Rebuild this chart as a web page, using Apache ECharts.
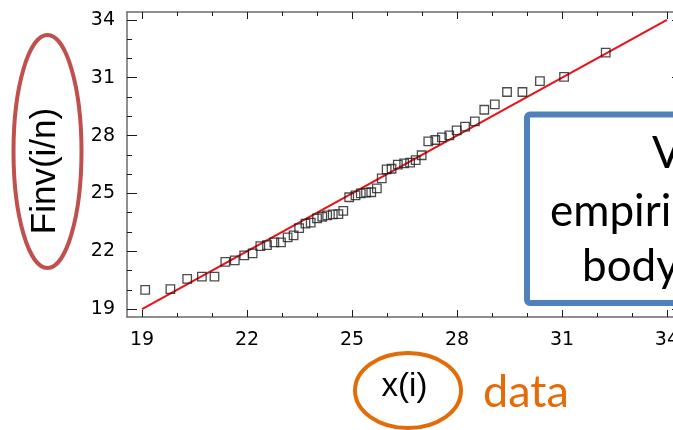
<!DOCTYPE html>
<html><head><meta charset="utf-8">
<script src="https://cdn.jsdelivr.net/npm/echarts@6/dist/echarts.min.js"></script>
<style>html,body{margin:0;padding:0;background:#fff;overflow:hidden}#c{width:673px;height:430px}</style>
</head><body><div id="c"></div>
<script>
// sorted data values x(i)
const dataX = [19.09,19.81,20.29,20.71,21.07,21.38,21.65,21.92,22.16,22.38,22.57,22.78,22.97,23.16,23.33,23.49,23.67,23.82,24.00,24.15,24.29,24.45,24.61,24.75,24.92,25.10,25.25,25.40,25.55,25.71,25.85,25.99,26.13,26.31,26.49,26.66,26.82,26.99,27.18,27.38,27.57,27.78,27.99,28.23,28.51,28.78,29.08,29.43,29.87,30.37,31.06,32.25];
// theoretical quantiles Finv(i/n)
const quantY = [20.00,20.04,20.57,20.68,20.68,21.45,21.53,21.79,21.89,22.27,22.32,22.46,22.46,22.72,22.82,23.20,23.43,23.48,23.71,23.79,23.86,23.91,23.93,24.09,24.80,24.90,25.00,25.04,25.06,25.26,25.78,26.25,26.28,26.49,26.56,26.60,26.73,26.98,27.70,27.77,27.91,28.01,28.27,28.46,28.74,29.34,29.62,30.26,30.26,30.82,31.04,32.30];
// reference line y = x
const refLineX = [19, 34];
const refLineY = [19, 34];
// tick values
const majorTicks = [19, 22, 25, 28, 31, 34];
const minorTicks = [19,20,21,22,23,24,25,26,27,28,29,30,31,32,33,34];
const xRange = [18.57, 34.43];
const yRange = [18.59, 34.41];
const xTitle = 'x(i)';
const yTitle = 'Finv(i/n)';
const noteWord = 'data';
const boxLines = ['V', 'empiri', 'body'];

const chart = echarts.init(document.getElementById('c'), null, {renderer: 'canvas'});
const lineCol = '#6b6b6b';
const tickCol = '#1a1a1a';
const lblFont = 'Liberation Sans';
const tickFont = 'DejaVu Sans';

function mkAxis(kind, pos, ticks, len, withLine, withLabel, extra) {
  const range = kind === 'x' ? xRange : yRange;
  const a = {
    type: 'value', gridIndex: 0, position: pos, min: range[0], max: range[1],
    axisLine: {show: withLine, onZero: false, lineStyle: {color: lineCol, width: 1.5}},
    axisTick: {show: true, inside: true, length: len, customValues: ticks, lineStyle: {color: tickCol, width: 1}},
    axisLabel: withLabel ? {show: true, customValues: majorTicks, fontSize: 19, color: '#000', fontFamily: tickFont, margin: kind === 'x' ? 14 : 12} : {show: false},
    splitLine: {show: false}, minorTick: {show: false}
  };
  return Object.assign(a, extra || {});
}

const option = {
  animation: false,
  backgroundColor: '#fff',
  grid: {left: 127, top: 12, width: 555, height: 305, containLabel: false, outerBoundsMode: 'none'},
  xAxis: [
    mkAxis('x', 'bottom', majorTicks, 7, true, true, {name: xTitle, nameLocation: 'middle', nameGap: 53,
      nameTextStyle: {fontSize: 33, color: '#000', fontFamily: lblFont}}),
    mkAxis('x', 'bottom', minorTicks, 4, false, false),
    mkAxis('x', 'top', majorTicks, 7, true, false),
    mkAxis('x', 'top', minorTicks, 4, false, false)
  ],
  yAxis: [
    mkAxis('y', 'left', majorTicks, 10, true, true),
    mkAxis('y', 'left', minorTicks, 5, false, false),
    mkAxis('y', 'right', majorTicks, 10, true, false),
    mkAxis('y', 'right', minorTicks, 5, false, false)
  ],
  series: [
    {
      type: 'line', xAxisIndex: 0, yAxisIndex: 0, z: 2,
      data: refLineX.map((v, i) => [v, refLineY[i]]),
      symbol: 'none', lineStyle: {color: '#e8141a', width: 2.2}
    },
    {
      type: 'scatter', xAxisIndex: 0, yAxisIndex: 0, z: 3,
      data: dataX.map((v, i) => [v, quantY[i]]),
      symbol: 'rect', symbolSize: 8.5,
      itemStyle: {color: 'rgba(255,255,255,0)', borderColor: '#1e1e1e', borderWidth: 1.3}
    }
  ],
  graphic: [
    {type: 'ellipse', shape: {cx: 47.5, cy: 151.5, rx: 34, ry: 116.5},
      style: {fill: 'none', stroke: '#c0504d', lineWidth: 4}, z: 10},
    {type: 'text', x: 45, y: 171, rotation: Math.PI / 2,
      style: {text: yTitle, fontSize: 35, fontFamily: lblFont, fill: '#000', textAlign: 'center', textVerticalAlign: 'middle'}, z: 10},
    {type: 'ellipse', shape: {cx: 408, cy: 390.5, rx: 53, ry: 37.5},
      style: {fill: 'none', stroke: '#e36c09', lineWidth: 4}, z: 10},
    {type: 'text', x: 483, y: 392,
      style: {text: noteWord, fontSize: 45, fontFamily: 'Lato', fill: '#e36c09', textAlign: 'left', textVerticalAlign: 'middle'}, z: 10},
    {type: 'rect', shape: {x: 527, y: 114.5, width: 200, height: 188.5, r: 3},
      style: {fill: '#fff', stroke: '#4f81bd', lineWidth: 6}, z: 10},
    {type: 'text', x: 652, y: 154,
      style: {text: boxLines[0], fontSize: 44, fontFamily: 'Lato', fill: '#000', textAlign: 'left', textVerticalAlign: 'middle'}, z: 11},
    {type: 'text', x: 550, y: 212,
      style: {text: boxLines[1], fontSize: 44, fontFamily: 'Lato', fill: '#000', textAlign: 'left', textVerticalAlign: 'middle'}, z: 11},
    {type: 'text', x: 582, y: 267,
      style: {text: boxLines[2], fontSize: 44, fontFamily: 'Lato', fill: '#000', textAlign: 'left', textVerticalAlign: 'middle'}, z: 11}
  ]
};
chart.setOption(option);
</script>
</body></html>
